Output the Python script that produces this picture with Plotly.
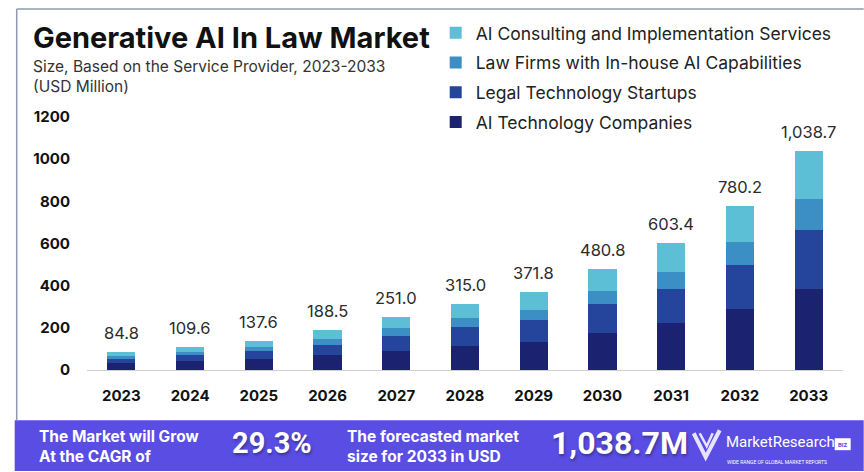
import plotly.graph_objects as go

# ---------------- data ----------------
years = ["2023", "2024", "2025", "2026", "2027", "2028", "2029", "2030", "2031", "2032", "2033"]
totals = [84.8, 109.6, 137.6, 188.5, 251.0, 315.0, 371.8, 480.8, 603.4, 780.2, 1038.7]
ai_technology_companies = [31.4, 40.6, 50.9, 69.7, 91.9, 114.0, 135.0, 176.9, 223.3, 287.1, 382.2]
legal_technology_startups = [22.9, 29.6, 37.2, 50.9, 67.3, 88.5, 103.4, 135.1, 162.3, 210.7, 282.5]
law_firms_inhouse = [11.9, 15.3, 19.3, 26.4, 38.2, 45.4, 46.5, 63.9, 80.9, 111.6, 144.4]
ai_consulting = [18.6, 24.1, 30.2, 41.5, 53.6, 67.1, 86.9, 104.9, 136.9, 170.8, 229.6]
y_ticks = [0, 200, 400, 600, 800, 1000, 1200]

series_names = [
    "AI Technology Companies",
    "Legal Technology Startups",
    "Law Firms with In-house AI Capabilities",
    "AI Consulting and Implementation Services",
]
series_values = [ai_technology_companies, legal_technology_startups, law_firms_inhouse, ai_consulting]
series_colors = ["#1b2370", "#25449b", "#3b8fc4", "#5cbfd6"]

title = "Generative AI In Law Market"
subtitle = "Size, Based on the Service Provider, 2023-2033<br>(USD Million)"
cagr_label = "The Market will Grow<br>At the CAGR of"
cagr_value = "29.3%"
forecast_label = "The forecasted market<br>size for 2033 in USD"
forecast_value = "1,038.7M"
brand = "MarketResearch"
brand_tag = "WIDE RANGE OF GLOBAL MARKET REPORTS"

# ---------------- geometry helpers ----------------
W, H = 864, 472
L, R, T, B = 87.3, 843.3, 116.5, 370.5


def px(x):
    return (x - L) / (R - L)


def py(y):
    return (B - y) / (B - T)


FONT = "Inter, Roboto, sans-serif"
BFONT = "Roboto, Inter, sans-serif"
SHADOW = "1px 2px 3px rgba(0,0,0,0.35)"

fig = go.Figure()
n = len(series_names)
for i, (name, vals, col) in enumerate(zip(series_names, series_values, series_colors)):
    fig.add_trace(go.Bar(
        x=years, y=vals, name=name, marker=dict(color=col, line=dict(width=0)),
        width=0.41, legendgroup=name, legendrank=n - i, hoverinfo="x+y+name",
    ))

annotations = []
for i, tot in enumerate(totals):
    annotations.append(dict(
        x=i, y=tot, xref="x", yref="y", text=f"{tot:,.1f}", showarrow=False,
        yshift=19, font=dict(family=FONT, size=16.5, color="#2b2b2b"),
    ))

# title / subtitle
annotations.append(dict(x=px(31), y=py(37), xref="paper", yref="paper", xanchor="left", yanchor="middle",
                        text=f"<b>{title}</b>", showarrow=False,
                        font=dict(family=FONT, size=29, color="#111111")))
annotations.append(dict(x=px(31), y=py(76), xref="paper", yref="paper", xanchor="left", yanchor="middle",
                        text=subtitle, showarrow=False, align="left",
                        font=dict(family=FONT, size=15.5, color="#333333")))

# banner texts
annotations += [
    dict(x=px(37), y=py(447), xref="paper", yref="paper", xanchor="left", yanchor="middle", align="left",
         text=f"<b>{cagr_label}</b>", showarrow=False, font=dict(family=FONT, size=15.5, color="white")),
    dict(x=px(230), y=py(444), xref="paper", yref="paper", xanchor="left", yanchor="middle",
         text=f"<b>{cagr_value}</b>", showarrow=False,
         font=dict(family=BFONT, size=29, color="white", shadow=SHADOW)),
    dict(x=px(345), y=py(447), xref="paper", yref="paper", xanchor="left", yanchor="middle", align="left",
         text=f"<b>{forecast_label}</b>", showarrow=False, font=dict(family=FONT, size=15.5, color="white")),
    dict(x=px(549), y=py(444), xref="paper", yref="paper", xanchor="left", yanchor="middle",
         text=f"<b>{forecast_value}</b>", showarrow=False,
         font=dict(family=BFONT, size=32, color="white", shadow=SHADOW)),
    dict(x=px(724), y=py(443), xref="paper", yref="paper", xanchor="left", yanchor="middle",
         text=brand, showarrow=False, font=dict(family=BFONT, size=15, color="white")),
    dict(x=px(725), y=py(463), xref="paper", yref="paper", xanchor="left", yanchor="middle",
         text=brand_tag, showarrow=False, font=dict(family=BFONT, size=5, color="white")),
    dict(x=px(843), y=py(445), xref="paper", yref="paper", xanchor="center", yanchor="middle",
         text="<b>BIZ</b>", showarrow=False, font=dict(family=BFONT, size=6, color="#5a4de3")),
]

shapes = [
    # frame
    dict(type="line", xref="paper", yref="paper", x0=px(17), x1=px(17), y0=py(8), y1=py(421),
         line=dict(color="#8c9bb0", width=1.5)),
    dict(type="line", xref="paper", yref="paper", x0=px(17), x1=px(864), y0=py(8), y1=py(8),
         line=dict(color="#8c9bb0", width=1.5)),
    # banner
    dict(type="rect", xref="paper", yref="paper", x0=px(15), x1=px(864), y0=py(421), y1=py(472),
         fillcolor="#5a4de3", line=dict(width=0), layer="below"),
    # BIZ box
    dict(type="rect", xref="paper", yref="paper", x0=px(835), x1=px(851), y0=py(439), y1=py(451),
         fillcolor="white", line=dict(width=0)),
]
# check-mark logo
chk = [(694, 434), (706, 458), (720, 431)]
path = "M {} {} L {} {} L {} {}".format(px(chk[0][0]), py(chk[0][1]), px(chk[1][0]), py(chk[1][1]),
                                        px(chk[2][0]), py(chk[2][1]))
shapes.append(dict(type="path", xref="paper", yref="paper", path=path,
                   line=dict(color="#e8e4ff", width=4)))
chk2 = [(700, 434), (707, 447), (713, 434)]
path2 = "M {} {} L {} {} L {} {}".format(px(chk2[0][0]), py(chk2[0][1]), px(chk2[1][0]), py(chk2[1][1]),
                                         px(chk2[2][0]), py(chk2[2][1]))
shapes.append(dict(type="path", xref="paper", yref="paper", path=path2,
                   line=dict(color="#e8e4ff", width=2.5)))

fig.update_layout(
    width=W, height=H,
    margin=dict(l=L, r=W - R, t=T, b=H - B, pad=0),
    paper_bgcolor="white", plot_bgcolor="white",
    barmode="stack",
    showlegend=True,
    legend=dict(x=px(436), y=py(14), xanchor="left", yanchor="top", traceorder="grouped",
                tracegroupgap=4, bgcolor="rgba(0,0,0,0)",
                font=dict(family=FONT, size=17.5, color="#222222")),
    xaxis=dict(type="category", range=[-0.5, 10.5], showgrid=False, showline=True, linecolor="#cfcfcf",
               linewidth=1, ticks="", ticklabelstandoff=12,
               tickfont=dict(family=FONT, size=15, color="#111111", weight="bold")),
    yaxis=dict(range=[0, 1200], tickvals=y_ticks, ticktext=[str(v) for v in y_ticks], showgrid=False,
               zeroline=False, showline=False, ticks="", ticklabelstandoff=16,
               tickfont=dict(family=FONT, size=15, color="#111111", weight="bold")),
    annotations=annotations,
    shapes=shapes,
    bargap=0.59,
)

fig.write_html("out.html", config={"displayModeBar": False},
               post_script="document.body.style.margin='0px';document.body.style.overflow='hidden';")
